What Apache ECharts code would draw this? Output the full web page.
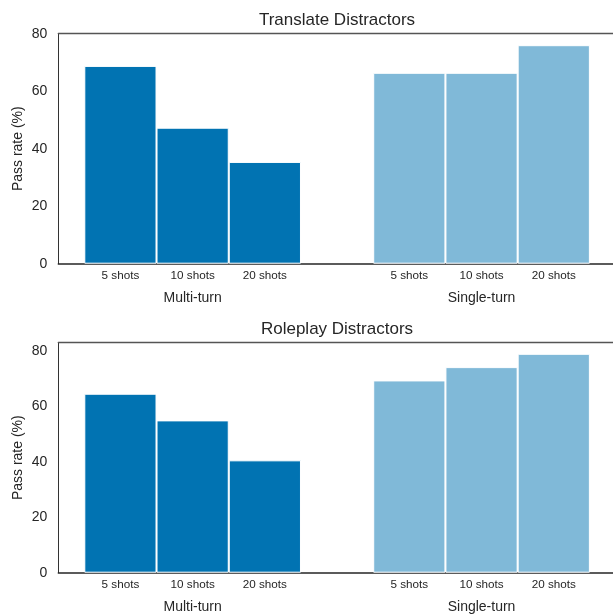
<!DOCTYPE html>
<html>
<head>
<meta charset="utf-8">
<script src="https://cdn.jsdelivr.net/npm/echarts@6/dist/echarts.min.js"></script>
<style>
html,body{margin:0;padding:0;background:#fff;}
#chart{width:613px;height:615px;}
</style>
</head>
<body>
<div id="chart"></div>
<script>
// ---- data ----
const shotLabels = ['5 shots', '10 shots', '20 shots'];
const groupLabels = ['Multi-turn', 'Single-turn'];
const titles = ['Translate Distractors', 'Roleplay Distractors'];
const translateMulti = [68.8, 47.3, 35.4];
const translateSingle = [66.4, 66.4, 76.0];
const roleplayMulti = [64.5, 54.9, 40.5];
const roleplaySingle = [69.3, 74.1, 78.9];
const yTicks = [0, 20, 40, 60, 80];
const yMaxes = [80, 82.9];

// ---- layout / style ----
const FONT = 'Liberation Sans, Arial, Helvetica, sans-serif';
const TXT = '#262626';
const DARK = '#0173b2';
const LIGHT = '#80b9d8';
const xMin = -0.86, xMax = 6.82;
const gridLeft = 58.3, gridWidth = 554.7, gridHeight = 230;
const gridTops = [33.7, 342.7];
const titleCenterX = 337;
const barW = gridWidth / (xMax - xMin);
const groupOffset = 4; // slot index where second group starts

// positions of bar slots (derived from array indices)
const multiPos = shotLabels.map((_, i) => i);
const singlePos = shotLabels.map((_, i) => i + groupOffset);
const labelPos = multiPos.concat(singlePos);
const labelText = shotLabels.concat(shotLabels);
const groupPos = [1, 1 + groupOffset];

const multiData = [translateMulti, roleplayMulti];
const singleData = [translateSingle, roleplaySingle];

const option = {
  animation: false,
  backgroundColor: '#fff',
  title: [],
  grid: [],
  xAxis: [],
  yAxis: [],
  series: []
};

for (let k = 0; k < 2; k++) {
  option.title.push({
    text: titles[k],
    left: titleCenterX,
    textAlign: 'center',
    top: gridTops[k] - 21.5,
    padding: 0,
    textStyle: { fontFamily: FONT, fontSize: 17, fontWeight: 'normal', color: TXT }
  });
  option.grid.push({
    left: gridLeft, top: gridTops[k], width: gridWidth, height: gridHeight,
    containLabel: false
  });
  const base = k * 3;
  // bar axis with shot labels
  option.xAxis.push({
    gridIndex: k, type: 'value', min: xMin, max: xMax, position: 'bottom',
    axisLine: { show: true, onZero: false, lineStyle: { color: '#262626', width: 1.5 } },
    axisTick: { show: false },
    splitLine: { show: false },
    axisLabel: {
      customValues: labelPos,
      formatter: v => { const i = labelPos.indexOf(Math.round(v)); return i >= 0 ? labelText[i] : ''; },
      margin: 6, fontFamily: FONT, fontSize: 11.7, color: TXT
    }
  });
  // group labels axis
  option.xAxis.push({
    gridIndex: k, type: 'value', min: xMin, max: xMax, position: 'bottom',
    axisLine: { show: false },
    axisTick: { show: false },
    splitLine: { show: false },
    axisLabel: {
      customValues: groupPos,
      formatter: v => { const i = groupPos.indexOf(Math.round(v)); return i >= 0 ? groupLabels[i] : ''; },
      margin: 27, fontFamily: FONT, fontSize: 14, color: TXT
    }
  });
  // top spine
  option.xAxis.push({
    gridIndex: k, type: 'value', min: xMin, max: xMax, position: 'top',
    axisLine: { show: true, onZero: false, lineStyle: { color: '#555', width: 1.3 } },
    axisTick: { show: false }, splitLine: { show: false }, axisLabel: { show: false }
  });
  option.yAxis.push({
    gridIndex: k, type: 'value', min: 0, max: yMaxes[k], position: 'left',
    name: 'Pass rate (%)', nameLocation: 'middle', nameGap: 33, nameMoveOverlap: false,
    nameTextStyle: { fontFamily: FONT, fontSize: 14, color: TXT },
    axisLine: { show: true, onZero: false, lineStyle: { color: '#333', width: 1 } },
    axisTick: { show: false },
    splitLine: { show: false },
    axisLabel: { customValues: yTicks, margin: 11, fontFamily: FONT, fontSize: 14, color: TXT }
  });
  option.series.push({
    type: 'bar', xAxisIndex: base, yAxisIndex: k,
    barWidth: barW, barGap: '-100%',
    itemStyle: { color: DARK, borderColor: '#fff', borderWidth: 1 },
    data: multiData[k].map((v, i) => [multiPos[i], v])
  });
  option.series.push({
    type: 'bar', xAxisIndex: base, yAxisIndex: k,
    barWidth: barW, barGap: '-100%',
    itemStyle: { color: LIGHT, borderColor: '#fff', borderWidth: 1 },
    data: singleData[k].map((v, i) => [singlePos[i], v])
  });
}

const chart = echarts.init(document.getElementById('chart'), null, { renderer: 'canvas' });
chart.setOption(option);
</script>
</body>
</html>
